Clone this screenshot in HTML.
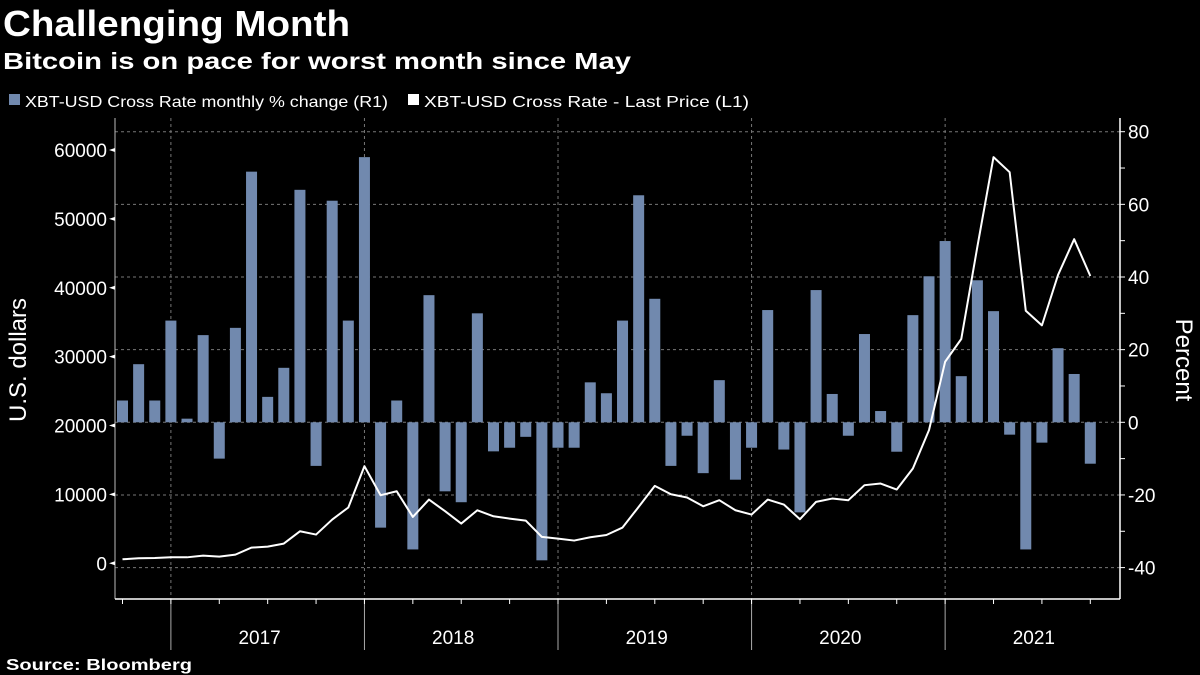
<!DOCTYPE html>
<html><head><meta charset="utf-8"><style>
html,body{margin:0;padding:0;background:#000;}
svg{display:block;font-family:"Liberation Sans","DejaVu Sans",sans-serif;}
</style></head><body>
<svg id="chart" width="1200" height="675" viewBox="0 0 1200 675" xmlns="http://www.w3.org/2000/svg">
<rect width="1200" height="675" fill="#000"/>
<text x="3" y="36" fill="#fff" font-size="36" font-weight="bold" textLength="347" lengthAdjust="spacingAndGlyphs">Challenging Month</text>
<text x="3" y="69" fill="#fff" font-size="23" font-weight="bold" textLength="628" lengthAdjust="spacingAndGlyphs">Bitcoin is on pace for worst month since May</text>
<g>
<rect x="9" y="94" width="11" height="11" fill="#7189ae"/>
<text x="25" y="107" fill="#fff" font-size="16" textLength="363" lengthAdjust="spacingAndGlyphs">XBT-USD Cross Rate monthly % change (R1)</text>
<rect x="408" y="94" width="11" height="11" fill="#fff"/>
<text x="424" y="107" fill="#fff" font-size="16" textLength="325" lengthAdjust="spacingAndGlyphs">XBT-USD Cross Rate - Last Price (L1)</text>
</g>
<g id="grid"></g>
<g id="bars"></g>
<g id="line"></g>
<g id="axes"></g>
<text transform="translate(26,360) rotate(-90)" text-anchor="middle" fill="#fff" font-size="24">U.S. dollars</text>
<text transform="translate(1176,360) rotate(90)" text-anchor="middle" fill="#fff" font-size="24">Percent</text>
<text x="6" y="670" fill="#fff" font-size="16" font-weight="bold" textLength="186" lengthAdjust="spacingAndGlyphs">Source: Bloomberg</text>
</svg>
<script>
const pctChange = [6,16,6,28,1,24,-10,26,69,7,15,64,-12,61,28,73,-29,6,-35,35,-19,-22,30,-8,-7,-4,-38,-7,-7,11,8,
28,62.5,34,-12,-3.7,-14,11.6,-15.8,-7,30.9,-7.5,-24.8,36.4,7.8,-3.7,24.3,3.1,-8.1,29.5,40.2,49.9,12.7,39.1,30.6,-3.4,-35,-5.6,20.4,13.3,-11.4];
const price = [580,730,770,870,870,1120,970,1260,2280,2420,2860,4650,4170,6350,8100,14100,9880,10460,6730,9250,7560,5770,7700,6830,6490,6200,3830,3580,3300,3780,4110,
5190,8190,11240,10030,9550,8280,9160,7700,7080,9250,8530,6400,8920,9400,9160,11340,11580,10710,13760,19330,29260,32560,45980,58970,56780,36670,34540,41860,47050,41710];
const leftTicks = [0,10000,20000,30000,40000,50000,60000];
const rightTicks = [-40,-20,0,20,40,60,80];
const yearLabels = ["2017","2018","2019","2020","2021"];

const NS="http://www.w3.org/2000/svg";
const L=115,R=1120,T=118,B=599;
const x0=122.5, step=16.13; // month 0 = first bar
const xAt=i=>x0+i*step;
const yL=v=>563.3-v*(563.3-150)/60000;
const yR=v=>422.3-v*(422.3-131.7)/80;
function mk(tag,attrs,parent){const e=document.createElementNS(NS,tag);for(const k in attrs)e.setAttribute(k,attrs[k]);parent.appendChild(e);return e;}
const grid=document.getElementById('grid'),bars=document.getElementById('bars'),line=document.getElementById('line'),axes=document.getElementById('axes');

rightTicks.forEach(v=>{
  const g=mk('line',{x1:L,x2:R,y1:yR(v),y2:yR(v),stroke:'#777','stroke-width':1,'stroke-dasharray':'3,3'},grid);
  
  
});
yearLabels.forEach((y,k)=>{
  const x=xAt(3+12*k);
  const g=mk('line',{x1:x,x2:x,y1:T,y2:B,stroke:'#777','stroke-width':1,'stroke-dasharray':'3,3'},grid);
  
  
  const s=mk('line',{x1:x,x2:x,y1:B,y2:650,stroke:'#aaa','stroke-width':1},axes);
  
  
  const t=mk('text',{x:xAt(3+12*k+5.5),y:644,fill:'#fff','font-size':19,'text-anchor':'middle'},axes);
  t.textContent=y;
  
  
});
for(let i=0;i<pctChange.length;i+=3){
  const x=xAt(i);
  const t=mk('line',{x1:x,x2:x,y1:B,y2:B+5,stroke:'#fff','stroke-width':1},axes);
  
  
}
pctChange.forEach((v,i)=>{
  const y0=yR(0),y1=yR(v);
  const r=mk('rect',{x:xAt(i)-5.5,y:Math.min(y0,y1),width:11,height:Math.abs(y1-y0),fill:'#7189ae'},bars);
  
  
});
const p=mk('polyline',{points:price.map((v,i)=>xAt(i)+','+yL(v)).join(' '),fill:'none',stroke:'#fff','stroke-width':2,'stroke-linejoin':'round'},line);



const la=mk('line',{x1:L,x2:L,y1:T,y2:B,stroke:'#bbb','stroke-width':1},axes);


const ra=mk('line',{x1:R,x2:R,y1:T,y2:B,stroke:'#fff','stroke-width':1.5},axes);


const ba=mk('line',{x1:L,x2:R,y1:B,y2:B,stroke:'#fff','stroke-width':1.5},axes);


leftTicks.forEach(v=>{
  const y=yL(v);
  const tk=mk('path',{d:`M${L-6},${y}L${L},${y-2}L${L},${y+2}Z`,fill:'#fff'},axes);
  
  
  const t=mk('text',{x:L-8,y:y+7,fill:'#fff','font-size':19,'text-anchor':'end'},axes);
  t.textContent=v;
  
  
});
for(let v=-40;v<=80;v+=10){
  const y=yR(v);
  const tk=mk('line',{x1:R,x2:R+5,y1:y,y2:y,stroke:'#fff','stroke-width':1},axes);
  
  
}
rightTicks.forEach(v=>{
  const t=mk('text',{x:R+8,y:yR(v)+7,fill:'#fff','font-size':19},axes);
  t.textContent=v<0?'-'+Math.abs(v):String(v);
  
  
});
</script>
</body></html>
